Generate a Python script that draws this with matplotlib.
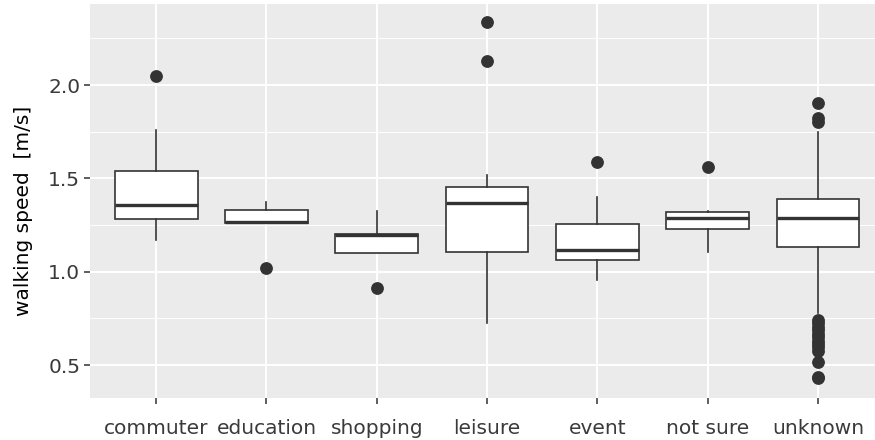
import matplotlib
matplotlib.use("Agg")
import matplotlib.pyplot as plt
from matplotlib.ticker import FixedLocator

# values
categories = ["commuter", "education", "shopping", "leisure", "event", "not sure", "unknown"]
whislo = [1.170, 1.259, 1.098, 0.724, 0.956, 1.107, 0.777]
q1 = [1.282, 1.259, 1.098, 1.104, 1.061, 1.229, 1.134]
med = [1.356, 1.264, 1.194, 1.366, 1.114, 1.286, 1.286]
q3 = [1.539, 1.329, 1.200, 1.454, 1.257, 1.321, 1.389]
whishi = [1.759, 1.373, 1.327, 1.518, 1.402, 1.327, 1.750]
outliers = [
    [2.048],
    [1.020],
    [0.913],
    [2.337, 2.129],
    [1.589],
    [1.559],
    [1.905, 1.822, 1.800,
     0.741, 0.725, 0.705, 0.688, 0.668, 0.650, 0.630, 0.612, 0.595, 0.575,
     0.515, 0.435, 0.428],
]

stats = []
for i, c in enumerate(categories):
    stats.append(dict(label=c, whislo=whislo[i], q1=q1[i], med=med[i],
                      q3=q3[i], whishi=whishi[i], fliers=outliers[i]))

W, H = 875, 440
fig = plt.figure(figsize=(W / 100, H / 100), dpi=100)
ax = fig.add_axes([90 / W, 1 - 397.7 / H, (W - 90) / W, (397.7 - 4) / H])

dark = "#333333"
ax.bxp(stats, positions=range(1, 8), widths=0.75, patch_artist=True,
       showcaps=False,
       boxprops=dict(facecolor="white", edgecolor=dark, linewidth=1.2),
       medianprops=dict(color=dark, linewidth=2.4, solid_capstyle="butt"),
       whiskerprops=dict(color=dark, linewidth=1.2),
       flierprops=dict(marker="o", markerfacecolor=dark, markeredgecolor=dark,
                       markersize=8.2))

ax.set_xlim(0.4, 7.517)
ax.set_ylim(0.325, 2.434)

ax.set_facecolor("#EBEBEB")
for s in ax.spines.values():
    s.set_visible(False)
ax.set_axisbelow(True)

ax.yaxis.set_major_locator(FixedLocator([0.5, 1.0, 1.5, 2.0]))
ax.yaxis.set_minor_locator(FixedLocator([0.75, 1.25, 1.75, 2.25]))
ax.set_yticklabels(["0.5", "1.0", "1.5", "2.0"])
ax.grid(which="major", color="white", linewidth=1.4)
ax.grid(which="minor", axis="y", color="white", linewidth=0.7)

ax.tick_params(which="major", length=4, width=1.1, color=dark,
               labelcolor="#3A3A3A", labelsize=14.5)
ax.tick_params(axis="y", pad=3)
ax.tick_params(axis="x", pad=11)
ax.tick_params(which="minor", length=0)

ax.set_ylabel("walking speed  [m/s]", fontsize=14.5, color="black")
ax.yaxis.set_label_coords(-0.073, 0.475)

fig.savefig("out.png", dpi=100)
